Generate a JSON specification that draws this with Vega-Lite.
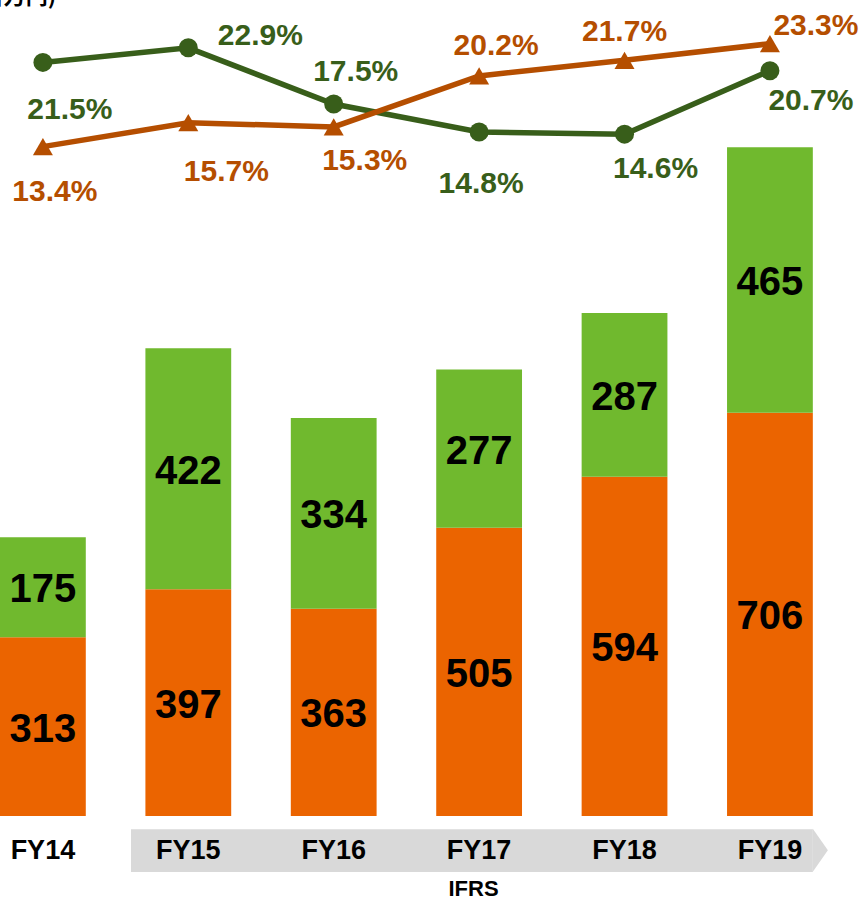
{
  "$schema": "https://vega.github.io/schema/vega-lite/v6.json",
  "autosize": {"type": "none"},
  "width": 855,
  "height": 872,
  "padding": {"left": 0, "top": 0, "right": 9, "bottom": 29},
  "background": "white",
  "config": {"view": {"stroke": null}, "font": "Liberation Sans"},
  "datasets": {
    "bars": [
      {"FY": "FY14", "seg": "A", "value": 313},
      {"FY": "FY14", "seg": "B", "value": 175},
      {"FY": "FY15", "seg": "A", "value": 397},
      {"FY": "FY15", "seg": "B", "value": 422},
      {"FY": "FY16", "seg": "A", "value": 363},
      {"FY": "FY16", "seg": "B", "value": 334},
      {"FY": "FY17", "seg": "A", "value": 505},
      {"FY": "FY17", "seg": "B", "value": 277},
      {"FY": "FY18", "seg": "A", "value": 594},
      {"FY": "FY18", "seg": "B", "value": 287},
      {"FY": "FY19", "seg": "A", "value": 706},
      {"FY": "FY19", "seg": "B", "value": 465}
    ],
    "rates": [
      {"FY": "FY14", "series": "g", "rate": 0.215},
      {"FY": "FY15", "series": "g", "rate": 0.229},
      {"FY": "FY16", "series": "g", "rate": 0.175},
      {"FY": "FY17", "series": "g", "rate": 0.148},
      {"FY": "FY18", "series": "g", "rate": 0.146},
      {"FY": "FY19", "series": "g", "rate": 0.207},
      {"FY": "FY14", "series": "o", "rate": 0.134},
      {"FY": "FY15", "series": "o", "rate": 0.157},
      {"FY": "FY16", "series": "o", "rate": 0.153},
      {"FY": "FY17", "series": "o", "rate": 0.202},
      {"FY": "FY18", "series": "o", "rate": 0.217},
      {"FY": "FY19", "series": "o", "rate": 0.233}
    ],
    "unit": [{"label": "(百万円)"}],
    "band": [{"label": "IFRS"}]
  },
  "encoding": {
    "x": {
      "field": "FY",
      "type": "nominal",
      "scale": {"type": "band", "domain": ["FY14", "FY15", "FY16", "FY17", "FY18", "FY19"], "paddingInner": 0.41, "paddingOuter": 0.145, "align": 0},
      "axis": {
        "orient": "bottom",
        "zindex": 1,
        "domain": false,
        "ticks": false,
        "tickSize": 0,
        "grid": false,
        "labelAngle": 0,
        "labelBaseline": "middle",
        "labelPadding": -22,
        "labelFont": "Liberation Sans",
        "labelFontSize": 27,
        "labelFontWeight": "bold",
        "labelColor": "#000000",
        "title": "IFRS",
        "titleFont": "Liberation Sans",
        "titleFontSize": 22,
        "titleFontWeight": "bold",
        "titleColor": "#000000",
        "titleX": 473,
        "titleY": 16,
        "titleAlign": "center",
        "titleBaseline": "middle"
      }
    }
  },
  "layer": [
    {
      "layer": [
        {
          "data": {"name": "band"},
          "mark": {"type": "rect", "color": "#d9d9d9"},
          "encoding": {
            "x": {"datum": "FY15", "bandPosition": -0.168},
            "x2": {"datum": "FY19", "bandPosition": 1},
            "y": {"datum": -23, "type": "quantitative", "scale": {"domain": [-98, 1429], "nice": false, "zero": false}, "axis": null},
            "y2": {"datum": -98}
          }
        },
        {
          "data": {"name": "band"},
          "mark": {"type": "point", "shape": "M0,-1L0.7,0L0,1Z", "size": 1849, "filled": true, "color": "#d9d9d9", "opacity": 1, "strokeWidth": 0},
          "encoding": {
            "x": {"datum": "FY19", "bandPosition": 1},
            "y": {"datum": -60, "type": "quantitative", "scale": {"domain": [-98, 1429], "nice": false, "zero": false}, "axis": null}
          }
        },
        {
          "data": {"name": "bars"},
          "mark": {"type": "bar"},
          "encoding": {
            "y": {"field": "value", "type": "quantitative", "stack": "zero", "scale": {"domain": [-98, 1429], "nice": false, "zero": false}, "axis": null},
            "color": {"field": "seg", "type": "nominal", "scale": {"domain": ["A", "B"], "range": ["#EB6400", "#70B92E"]}, "legend": null},
            "order": {"field": "seg", "sort": "ascending"}
          }
        },
        {
          "data": {"name": "bars"},
          "transform": [
            {"stack": "value", "groupby": ["FY"], "sort": [{"field": "seg", "order": "ascending"}], "as": ["v0", "v1"]},
            {"calculate": "(datum.v0 + datum.v1) / 2", "as": "mid"}
          ],
          "mark": {"type": "text", "font": "Liberation Sans", "fontSize": 40, "fontWeight": "bold", "color": "#000000", "baseline": "middle", "align": "center", "dy": 3},
          "encoding": {
            "y": {"field": "mid", "type": "quantitative", "scale": {"domain": [-98, 1429], "nice": false, "zero": false}, "axis": null},
            "text": {"field": "value", "type": "quantitative"}
          }
        },
        {
          "data": {"name": "band"},
          "mark": {"type": "rule", "color": "#333333", "strokeWidth": 1.5},
          "encoding": {
            "y": {"datum": 0, "type": "quantitative", "scale": {"domain": [-98, 1429], "nice": false, "zero": false}, "axis": null}
          }
        },
        {
          "data": {"name": "unit"},
          "mark": {"type": "text", "font": "Noto Sans CJK JP", "fontSize": 22, "fontWeight": "bold", "color": "#000000", "align": "right", "baseline": "bottom", "dx": 56, "dy": 9},
          "encoding": {
            "x": {"datum": "FY14", "bandPosition": 0},
            "y": {"datum": 1429, "type": "quantitative", "scale": {"domain": [-98, 1429], "nice": false, "zero": false}, "axis": null},
            "text": {"field": "label"}
          }
        }
      ]
    },
    {
      "data": {"name": "rates"},
      "encoding": {
        "y": {"field": "rate", "type": "quantitative", "scale": {"domain": [-0.5635, 0.275], "nice": false, "zero": false}, "axis": null}
      },
      "layer": [
        {"transform": [{"filter": "datum.series === 'g'"}], "mark": {"type": "line", "color": "#385E1A", "strokeWidth": 5.5}},
        {"transform": [{"filter": "datum.series === 'o'"}], "mark": {"type": "line", "color": "#B54E00", "strokeWidth": 5.5}},
        {"transform": [{"filter": "datum.series === 'g'"}], "mark": {"type": "point", "shape": "circle", "size": 361, "filled": true, "opacity": 1, "color": "#385E1A"}},
        {"transform": [{"filter": "datum.series === 'o'"}], "mark": {"type": "point", "shape": "triangle-up", "size": 400, "filled": true, "opacity": 1, "color": "#B54E00"}},
        {"transform": [{"filter": "datum.series === 'g' && datum.FY === 'FY14'"}], "mark": {"type": "text", "fontSize": 30, "fontWeight": "bold", "color": "#385E1A", "baseline": "middle", "dx": 27, "dy": 48}, "encoding": {"text": {"field": "rate", "type": "quantitative", "format": ".1%"}}},
        {"transform": [{"filter": "datum.series === 'g' && datum.FY === 'FY15'"}], "mark": {"type": "text", "fontSize": 30, "fontWeight": "bold", "color": "#385E1A", "baseline": "middle", "dx": 72, "dy": -12}, "encoding": {"text": {"field": "rate", "type": "quantitative", "format": ".1%"}}},
        {"transform": [{"filter": "datum.series === 'g' && datum.FY === 'FY16'"}], "mark": {"type": "text", "fontSize": 30, "fontWeight": "bold", "color": "#385E1A", "baseline": "middle", "dx": 22, "dy": -32}, "encoding": {"text": {"field": "rate", "type": "quantitative", "format": ".1%"}}},
        {"transform": [{"filter": "datum.series === 'g' && datum.FY === 'FY17'"}], "mark": {"type": "text", "fontSize": 30, "fontWeight": "bold", "color": "#385E1A", "baseline": "middle", "dx": 2, "dy": 52}, "encoding": {"text": {"field": "rate", "type": "quantitative", "format": ".1%"}}},
        {"transform": [{"filter": "datum.series === 'g' && datum.FY === 'FY18'"}], "mark": {"type": "text", "fontSize": 30, "fontWeight": "bold", "color": "#385E1A", "baseline": "middle", "dx": 31, "dy": 35}, "encoding": {"text": {"field": "rate", "type": "quantitative", "format": ".1%"}}},
        {"transform": [{"filter": "datum.series === 'g' && datum.FY === 'FY19'"}], "mark": {"type": "text", "fontSize": 30, "fontWeight": "bold", "color": "#385E1A", "baseline": "middle", "dx": 41, "dy": 30}, "encoding": {"text": {"field": "rate", "type": "quantitative", "format": ".1%"}}},
        {"transform": [{"filter": "datum.series === 'o' && datum.FY === 'FY14'"}], "mark": {"type": "text", "fontSize": 30, "fontWeight": "bold", "color": "#B54E00", "baseline": "middle", "dx": 12, "dy": 45}, "encoding": {"text": {"field": "rate", "type": "quantitative", "format": ".1%"}}},
        {"transform": [{"filter": "datum.series === 'o' && datum.FY === 'FY15'"}], "mark": {"type": "text", "fontSize": 30, "fontWeight": "bold", "color": "#B54E00", "baseline": "middle", "dx": 38, "dy": 49}, "encoding": {"text": {"field": "rate", "type": "quantitative", "format": ".1%"}}},
        {"transform": [{"filter": "datum.series === 'o' && datum.FY === 'FY16'"}], "mark": {"type": "text", "fontSize": 30, "fontWeight": "bold", "color": "#B54E00", "baseline": "middle", "dx": 31, "dy": 34}, "encoding": {"text": {"field": "rate", "type": "quantitative", "format": ".1%"}}},
        {"transform": [{"filter": "datum.series === 'o' && datum.FY === 'FY17'"}], "mark": {"type": "text", "fontSize": 30, "fontWeight": "bold", "color": "#B54E00", "baseline": "middle", "dx": 17, "dy": -30}, "encoding": {"text": {"field": "rate", "type": "quantitative", "format": ".1%"}}},
        {"transform": [{"filter": "datum.series === 'o' && datum.FY === 'FY18'"}], "mark": {"type": "text", "fontSize": 30, "fontWeight": "bold", "color": "#B54E00", "baseline": "middle", "dx": 0, "dy": -28}, "encoding": {"text": {"field": "rate", "type": "quantitative", "format": ".1%"}}},
        {"transform": [{"filter": "datum.series === 'o' && datum.FY === 'FY19'"}], "mark": {"type": "text", "fontSize": 30, "fontWeight": "bold", "color": "#B54E00", "baseline": "middle", "dx": 46, "dy": -18}, "encoding": {"text": {"field": "rate", "type": "quantitative", "format": ".1%"}}}
      ]
    }
  ],
  "resolve": {"scale": {"y": "independent"}}
}
